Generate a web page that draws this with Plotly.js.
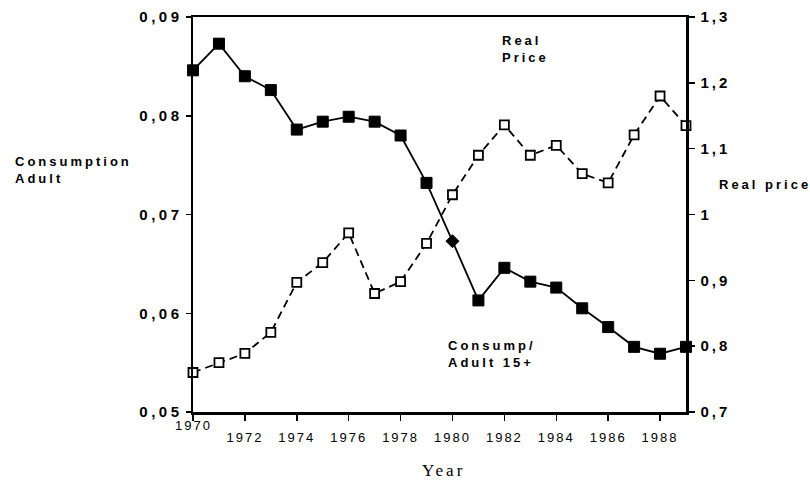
<!DOCTYPE html>
<html>
<head>
<meta charset="utf-8">
<script src="https://cdn.plot.ly/plotly-3.0.1.min.js"></script>
<style>
html,body{margin:0;padding:0;background:#fff;}
#chart{width:810px;height:481px;}
</style>
</head>
<body>
<div id="chart"></div>
<script>
// ---- data ----
const years = [1970,1971,1972,1973,1974,1975,1976,1977,1978,1979,1980,1981,1982,1983,1984,1985,1986,1987,1988,1989];
const consumption = [0.0846,0.0873,0.0840,0.0826,0.0786,0.0794,0.0799,0.0794,0.0780,0.0732,0.0673,0.0613,0.0646,0.0632,0.0626,0.0605,0.0586,0.0566,0.0559,0.0566];
const realPrice = [0.760,0.775,0.789,0.821,0.897,0.927,0.972,0.880,0.898,0.956,1.030,1.090,1.136,1.090,1.105,1.062,1.048,1.121,1.180,1.135];

const xTickVals = [1970,1972,1974,1976,1978,1980,1982,1984,1986,1988];
const xTickText = ['1970','1972','1974','1976','1978','1980','1982','1984','1986','1988'];
const yLeftVals = [0.05,0.06,0.07,0.08,0.09];
const yLeftText = ['0,05','0,06','0,07','0,08','0,09'];
const yRightVals = [0.7,0.8,0.9,1.0,1.1,1.2,1.3];
const yRightText = ['0,7','0,8','0,9','1','1,1','1,2','1,3'];

const spaced = (t, px) => '<span style="letter-spacing:' + px + 'px">' + t + '</span>';

const consSymbols = years.map(y => y === 1980 ? 'diamond' : 'square');
const consSizes = years.map(y => y === 1980 ? 10 : 11);

const FONT = 'Liberation Sans, Arial, sans-serif';

const traces = [
  {
    x: years, y: realPrice, yaxis: 'y2', type: 'scatter', mode: 'lines+markers',
    line: {color: '#000', width: 1.8, dash: '8px,5px'},
    marker: {symbol: 'square', size: 9, color: '#fff', opacity: 1, line: {color: '#000', width: 1.8}},
    cliponaxis: false, showlegend: false
  },
  {
    x: years, y: consumption, yaxis: 'y', type: 'scatter', mode: 'lines+markers',
    line: {color: '#000', width: 1.8},
    marker: {symbol: consSymbols, size: consSizes, color: '#000', opacity: 1, line: {color: '#000', width: 1}},
    cliponaxis: false, showlegend: false
  }
];

const baseAxis = {showgrid: false, zeroline: false, linecolor: '#000', tickcolor: '#000'};

const layout = {
  width: 810, height: 481,
  margin: {l: 193, r: 124, t: 17, b: 69},
  paper_bgcolor: '#fff', plot_bgcolor: '#fff',
  showlegend: false,
  font: {family: FONT, color: '#000'},
  xaxis: Object.assign({}, baseAxis, {
    range: [1970, 1989], tickmode: 'array', tickvals: xTickVals,
    ticktext: xTickText.map((t, i) => i === 0 ? '' : spaced(t, 2)),
    ticks: 'outside', ticklen: 6, tickwidth: 1.5,
    showline: true, linewidth: 2.5, mirror: true,
    tickfont: {family: FONT, size: 13, color: '#000'},
    ticklabelstandoff: 6
  }),
  xaxis2: Object.assign({}, baseAxis, {
    range: [1970, 1989], overlaying: 'x', anchor: 'y', side: 'bottom',
    tickmode: 'array', tickvals: xTickVals, showticklabels: false,
    ticks: 'inside', ticklen: 6, tickwidth: 1.5, showline: false
  }),
  yaxis: Object.assign({}, baseAxis, {
    range: [0.05, 0.09], tickmode: 'array', tickvals: yLeftVals,
    ticktext: yLeftText.map(t => spaced(t, 3.5)),
    ticks: 'outside', ticklen: 5, tickwidth: 1.5,
    showline: true, linewidth: 2.5,
    tickfont: {family: FONT, size: 15, color: '#000', weight: 'bold'},
    ticklabelstandoff: 0
  }),
  yaxis2: Object.assign({}, baseAxis, {
    range: [0.7, 1.3], overlaying: 'y', side: 'right', anchor: 'x',
    tickmode: 'array', tickvals: yRightVals,
    ticktext: yRightText.map(t => spaced(t, 3)),
    ticks: 'outside', ticklen: 6, tickwidth: 1.5,
    showline: true, linewidth: 2.5,
    tickfont: {family: FONT, size: 15, color: '#000', weight: 'bold'},
    ticklabelstandoff: 3
  }),
  yaxis3: Object.assign({}, baseAxis, {
    range: [0.05, 0.09], overlaying: 'y', side: 'left', anchor: 'x',
    tickmode: 'array', tickvals: yLeftVals, showticklabels: false,
    ticks: 'inside', ticklen: 5, tickwidth: 1.5, showline: false
  }),
  yaxis4: Object.assign({}, baseAxis, {
    range: [0.7, 1.3], overlaying: 'y', side: 'right', anchor: 'x',
    tickmode: 'array', tickvals: yRightVals, showticklabels: false,
    ticks: 'inside', ticklen: 6, tickwidth: 1.5, showline: false
  }),
  annotations: [
    {text: spaced('Consumption', 3) + '<br>' + spaced('Adult', 3), xref: 'paper', yref: 'paper',
     x: -0.365, y: 0.613, xanchor: 'left', yanchor: 'middle', align: 'left', showarrow: false,
     font: {family: FONT, size: 13, color: '#000', weight: 'bold'}},
    {text: spaced('Real price', 3), xref: 'paper', yref: 'paper',
     x: 1.063, y: 0.575, xanchor: 'left', yanchor: 'middle', align: 'left', showarrow: false,
     font: {family: FONT, size: 13, color: '#000', weight: 'bold'}},
    {text: spaced('Real', 3) + '<br>' + spaced('Price', 3), xref: 'paper', yref: 'paper',
     x: 0.623, y: 0.920, xanchor: 'left', yanchor: 'middle', align: 'left', showarrow: false,
     font: {family: FONT, size: 13, color: '#000', weight: 'bold'}},
    {text: spaced('Consump/', 3) + '<br>' + spaced('Adult 15+', 3), xref: 'paper', yref: 'paper',
     x: 0.513, y: 0.148, xanchor: 'left', yanchor: 'middle', align: 'left', showarrow: false,
     font: {family: FONT, size: 13, color: '#000', weight: 'bold'}},
    {text: spaced('Year', 3), xref: 'paper', yref: 'paper',
     x: 0.509, y: -0.147, xanchor: 'center', yanchor: 'middle', showarrow: false,
     font: {family: 'Liberation Serif, Times New Roman, serif', size: 17, color: '#000'}},
    {text: spaced(xTickText[0], 2), xref: 'x', yref: 'paper',
     x: xTickVals[0], y: -0.033, xanchor: 'center', yanchor: 'middle', showarrow: false,
     font: {family: FONT, size: 13, color: '#000'}}
  ]
};

Plotly.newPlot('chart', traces, layout, {displayModeBar: false, staticPlot: true});
</script>
</body>
</html>
